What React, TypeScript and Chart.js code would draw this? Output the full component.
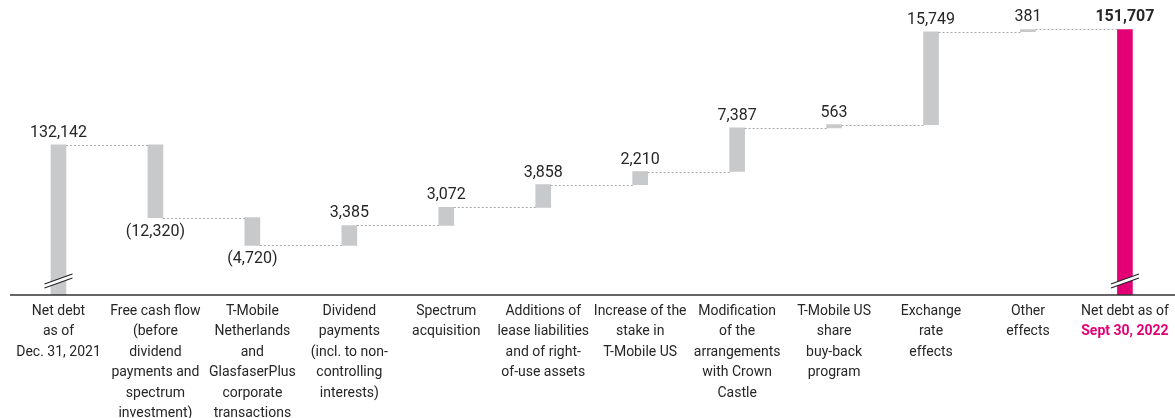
import React, { useEffect, useRef } from "react";
import { Chart, registerables } from "chart.js";

Chart.register(...registerables);

const categories: string[][] = [
  ["Net debt", "as of", "Dec. 31, 2021"],
  ["Free cash flow", "(before", "dividend", "payments and", "spectrum", "investment)"],
  ["T-Mobile", "Netherlands", "and", "GlasfaserPlus", "corporate", "transactions"],
  ["Dividend", "payments", "(incl. to non-", "controlling", "interests)"],
  ["Spectrum", "acquisition"],
  ["Additions of", "lease liabilities", "and of right-", "of-use assets"],
  ["Increase of the", "stake in", "T-Mobile US"],
  ["Modification", "of the", "arrangements", "with Crown", "Castle"],
  ["T-Mobile US", "share", "buy-back", "program"],
  ["Exchange", "rate", "effects"],
  ["Other", "effects"],
  ["Net debt as of", "Sept 30, 2022"],
];

const startValue = 132142;
const changes = [-12320, -4720, 3385, 3072, 3858, 2210, 7387, 563, 15749, 381];
const endValue = 151707;

const yMin = 106700;
const yMax = 156700;

const GREY = "#c8c9cb";
const MAGENTA = "#e20074";
const TEXT = "#262626";
const FONT = "Roboto, 'Noto Sans', sans-serif";

function fmt(n: number): string {
  const s = Math.abs(n).toLocaleString("en-US");
  return n < 0 ? `(${s})` : s;
}

export default function App() {
  const ref = useRef<HTMLCanvasElement | null>(null);

  useEffect(() => {
    if (!ref.current) return;

    const totals: number[] = [startValue];
    let run = startValue;
    changes.forEach((c) => {
      run += c;
      totals.push(run);
    });

    const data: [number, number][] = [];
    data.push([yMin, startValue]);
    changes.forEach((c, i) => {
      const prev = totals[i];
      const next = totals[i + 1];
      data.push([Math.min(prev, next), Math.max(prev, next)]);
    });
    data.push([yMin, endValue]);

    const labelValues = [startValue, ...changes, endValue];

    const overlay = {
      id: "overlay",
      afterDatasetsDraw(chart: any) {
        const ctx = chart.ctx as CanvasRenderingContext2D;
        const meta = chart.getDatasetMeta(0);
        const xs = chart.scales.x;
        const ys = chart.scales.y;
        const area = chart.chartArea;

        ctx.save();
        ctx.strokeStyle = "#a8a8a8";
        ctx.lineWidth = 1;
        ctx.setLineDash([2, 2]);
        for (let i = 0; i < meta.data.length - 1; i++) {
          const a = meta.data[i];
          const b = meta.data[i + 1];
          const level = i < totals.length ? totals[i] : endValue;
          const y = Math.round(ys.getPixelForValue(level)) + 0.5;
          ctx.beginPath();
          ctx.moveTo(a.x + a.width / 2, y);
          ctx.lineTo(b.x - b.width / 2, y);
          ctx.stroke();
        }
        ctx.setLineDash([]);

        ctx.strokeStyle = "#333333";
        ctx.lineWidth = 1.5;
        ctx.beginPath();
        ctx.moveTo(area.left, area.bottom);
        ctx.lineTo(chart.width, area.bottom);
        ctx.stroke();

        [0, meta.data.length - 1].forEach((i) => {
          const bar = meta.data[i];
          const cx = bar.x;
          const cy = area.bottom - 14;
          const dx = 14;
          const dy = 5;
          ctx.fillStyle = "#ffffff";
          ctx.beginPath();
          ctx.moveTo(cx - dx, cy + dy - 2);
          ctx.lineTo(cx + dx, cy - dy - 2);
          ctx.lineTo(cx + dx, cy - dy + 2);
          ctx.lineTo(cx - dx, cy + dy + 2);
          ctx.closePath();
          ctx.fill();
          ctx.strokeStyle = "#222222";
          ctx.lineWidth = 1.1;
          [-2, 2].forEach((o) => {
            ctx.beginPath();
            ctx.moveTo(cx - dx, cy + dy + o);
            ctx.lineTo(cx + dx, cy - dy + o);
            ctx.stroke();
          });
        });

        ctx.textAlign = "center";
        labelValues.forEach((v, i) => {
          const bar = meta.data[i];
          const last = i === labelValues.length - 1;
          ctx.fillStyle = TEXT;
          ctx.font = `${last ? "bold " : ""}16px ${FONT}`;
          if (v < 0) {
            ctx.textBaseline = "top";
            const yb = ys.getPixelForValue(data[i][0]);
            ctx.fillText(fmt(v), bar.x, yb + 6);
          } else {
            ctx.textBaseline = "bottom";
            const yt = ys.getPixelForValue(data[i][1]);
            ctx.fillText(fmt(v), bar.x, yt - 4);
          }
        });

        ctx.textBaseline = "middle";
        categories.forEach((lines, i) => {
          const x = xs.getPixelForValue(i);
          lines.forEach((line, j) => {
            const isDate = i === categories.length - 1 && j === 1;
            ctx.fillStyle = isDate ? MAGENTA : TEXT;
            ctx.font = `${isDate ? "bold " : ""}14px ${FONT}`;
            ctx.fillText(line, x, area.bottom + 16 + j * 20.5);
          });
        });
        ctx.restore();
      },
    };

    const chart = new Chart(ref.current, {
      type: "bar",
      data: {
        labels: categories.map((c) => c.join(" ")),
        datasets: [
          {
            data: data as any,
            backgroundColor: data.map((_, i) => (i === data.length - 1 ? MAGENTA : GREY)),
            borderWidth: 0,
            borderSkipped: false,
            barThickness: 15,
          },
        ],
      },
      options: {
        animation: false,
        responsive: true,
        maintainAspectRatio: false,
        layout: { padding: { left: 10, right: 1.6, top: 0, bottom: 123 } },
        plugins: {
          legend: { display: false },
          tooltip: { enabled: false },
        },
        scales: {
          x: { display: false },
          y: { display: false, min: yMin, max: yMax },
        },
      },
      plugins: [overlay],
    });

    return () => chart.destroy();
  }, []);

  return (
    <div style={{ position: "fixed", left: 0, top: 0, width: 1175, height: 418, background: "#fff" }}>
      <canvas ref={ref} />
    </div>
  );
}
